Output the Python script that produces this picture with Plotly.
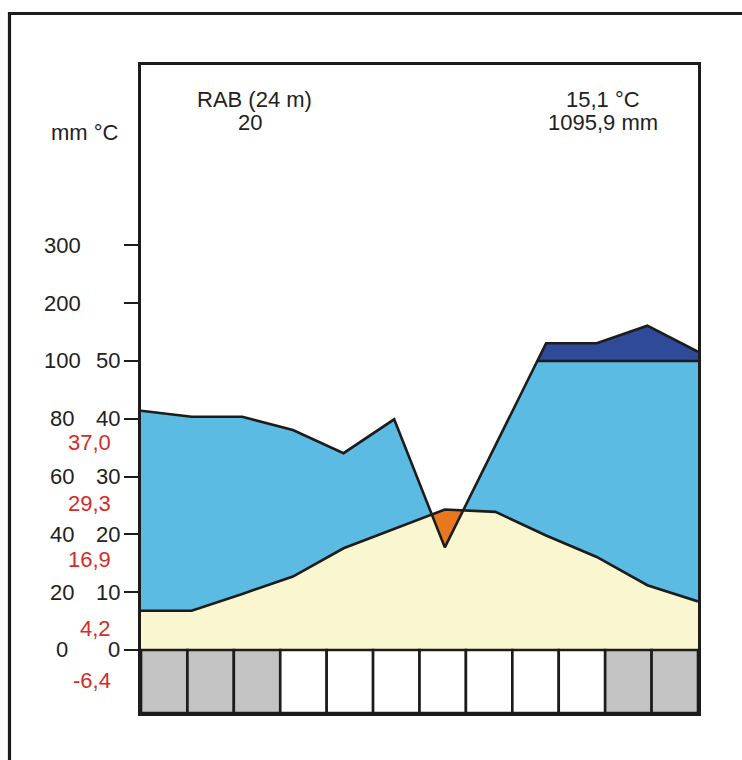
import numpy as np
import plotly.graph_objects as go

# ---------------- data ----------------
months = ["Jan", "Feb", "Mar", "Apr", "May", "Jun", "Jul", "Aug", "Sep", "Oct", "Nov", "Dec"]
temp = [6.8, 6.8, 9.7, 12.7, 17.6, 20.9, 24.3, 23.9, 19.8, 16.1, 11.2, 8.4]          # °C
precip = [82.8, 80.7, 80.7, 76.1, 68.1, 79.8, 35.5, 70.9, 130.6, 130.6, 161.0, 116.0]  # mm
frost = [1, 1, 1, 0, 0, 0, 0, 0, 0, 0, 1, 1]   # 1 = frost-possible month (grey box)

station = "RAB (24 m)"
years = "20"
mean_temp = "15,1 °C"
annual_precip = "1095,9 mm"
red_values = ["37,0", "29,3", "16,9", "4,2", "-6,4"]
precip_ticks = [0, 20, 40, 60, 80, 100, 200, 300]
temp_ticks = [0, 10, 20, 30, 40, 50]

# ---------------- styling ----------------
FONT = "Liberation Sans, Arial, sans-serif"
FS = 22
DARK = "#1c1c1c"
CREAM = "#faf6d0"
LBLUE = "#5bbbe2"
DBLUE = "#2e4a98"
ORANGE = "#e8781e"
GREY = "#c3c3c3"
RED = "#d22c2c"
LW = 2.6


def p_scale(p):
    # Walter-Lieth: 10 °C = 20 mm up to 100 mm, above that 10 °C = 100 mm
    return p / 2.0 if p <= 100 else 50.0 + (p - 100.0) / 10.0


n = len(months)
x = np.arange(n, dtype=float)
T = np.array(temp, dtype=float)
P = np.array([p_scale(p) for p in precip])
L50 = np.full(n, 50.0)

# insert crossing points so that fills are exact
xs = list(x)
for i in range(n - 1):
    for a, b in ((P, L50), (P, T)):
        d0 = a[i] - b[i]
        d1 = a[i + 1] - b[i + 1]
        if d0 * d1 < 0:
            xs.append(x[i] + d0 / (d0 - d1))
xg = np.array(sorted(set(xs)))
Tg = np.interp(xg, x, T)
Pg = np.interp(xg, x, P)

fig = go.Figure()
noline = dict(width=0)

# cream: under temperature curve
fig.add_trace(go.Scatter(x=xg, y=Tg, mode="lines", line=noline, fill="tozeroy",
                         fillcolor=CREAM, hoverinfo="skip"))
# light blue: humid period (temperature -> min(P,100mm))
fig.add_trace(go.Scatter(x=xg, y=np.maximum(np.minimum(Pg, 50.0), Tg), mode="lines",
                         line=noline, fill="tonexty", fillcolor=LBLUE, hoverinfo="skip"))
# orange: arid period
fig.add_trace(go.Scatter(x=xg, y=np.minimum(Pg, Tg), mode="lines", line=noline,
                         hoverinfo="skip"))
fig.add_trace(go.Scatter(x=xg, y=Tg, mode="lines", line=noline, fill="tonexty",
                         fillcolor=ORANGE, hoverinfo="skip"))
# dark blue: precipitation above 100 mm
fig.add_trace(go.Scatter(x=xg, y=np.full(len(xg), 50.0), mode="lines", line=noline,
                         hoverinfo="skip"))
fig.add_trace(go.Scatter(x=xg, y=np.maximum(Pg, 50.0), mode="lines", line=noline,
                         fill="tonexty", fillcolor=DBLUE, hoverinfo="skip"))

# outline lines
y100 = [50.0 if p >= 50.0 - 1e-9 else None for p in Pg]
fig.add_trace(go.Scatter(x=xg, y=y100, mode="lines", line=dict(color=DARK, width=LW),
                         connectgaps=False, hoverinfo="skip"))
fig.add_trace(go.Scatter(x=x, y=T, mode="lines", line=dict(color=DARK, width=LW),
                         hoverinfo="skip"))
fig.add_trace(go.Scatter(x=x, y=P, mode="lines", line=dict(color=DARK, width=LW),
                         hoverinfo="skip"))

Y_BOTTOM = -10.9
Y_TOP = 101.2

# month boxes
w = (n - 1) / n
for i, f in enumerate(frost):
    fig.add_shape(type="rect", xref="x", yref="y", x0=i * w, x1=(i + 1) * w,
                  y0=Y_BOTTOM, y1=0, fillcolor=GREY if f else "white",
                  line=dict(color=DARK, width=LW), layer="above")

# outer frame
fig.add_shape(type="rect", xref="paper", yref="paper", x0=-0.2361, x1=1.3,
              y0=-0.3, y1=1.0795, line=dict(color=DARK, width=3.2),
              fillcolor="rgba(0,0,0,0)", layer="above")

ann = []
txt = dict(family=FONT, size=FS, color="#222222")
red = dict(family=FONT, size=FS, color=RED)
for p in precip_ticks:
    ann.append(dict(x=0, xref="x domain", y=p_scale(p), yref="y", text=str(p),
                    showarrow=False, xanchor="center", xshift=-79, font=txt))
for t in temp_ticks:
    ann.append(dict(x=0, xref="x domain", y=t, yref="y", text=str(t),
                    showarrow=False, xanchor="right", xshift=-19, font=txt))
red_pos = [35.9, 25.4, 15.6, 3.75, -5.2]
for s, yy in zip(red_values, red_pos):
    ann.append(dict(x=0, xref="x domain", y=yy, yref="y", text=s,
                    showarrow=False, xanchor="right", xshift=-28, font=red))
ann.append(dict(x=0, xref="x domain", y=89.6, yref="y", text="mm °C",
                showarrow=False, xanchor="right", xshift=-20, font=txt))
ann.append(dict(x=0.203, xref="x domain", y=95.2, yref="y", text=station,
                showarrow=False, xanchor="center", font=txt))
ann.append(dict(x=0.196, xref="x domain", y=91.2, yref="y", text=years,
                showarrow=False, xanchor="center", font=txt))
ann.append(dict(x=0.83, xref="x domain", y=95.2, yref="y", text=mean_temp,
                showarrow=False, xanchor="center", font=txt))
ann.append(dict(x=0.83, xref="x domain", y=91.2, yref="y", text=annual_precip,
                showarrow=False, xanchor="center", font=txt))

fig.update_layout(
    width=742, height=760,
    margin=dict(l=141, r=44, t=65, b=47),
    paper_bgcolor="white", plot_bgcolor="white",
    showlegend=False,
    annotations=ann,
    xaxis=dict(range=[0, n - 1], showgrid=False, zeroline=False, showticklabels=False,
               ticks="", showline=True, mirror=True, linecolor=DARK, linewidth=LW,
               fixedrange=True),
    yaxis=dict(range=[Y_BOTTOM, Y_TOP], showgrid=False, zeroline=False,
               showticklabels=False, tickmode="array",
               tickvals=[p_scale(p) for p in precip_ticks if p > 100] + temp_ticks,
               ticks="outside", ticklen=14, tickwidth=2.2, tickcolor=DARK,
               showline=True, mirror=True, linecolor=DARK, linewidth=LW,
               fixedrange=True),
)

fig.write_html("out.html", config={"displayModeBar": False},
               post_script="document.body.style.margin='0';document.body.style.overflow='hidden';")
